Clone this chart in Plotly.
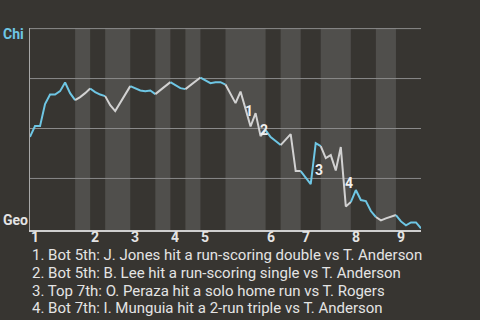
import plotly.graph_objects as go

# Chi win probability after each event (index 0 = first pitch)
win_prob = [
    0.458, 0.512, 0.512, 0.622, 0.670, 0.670, 0.687, 0.730, 0.677, 0.642,   # 0-9
    0.657, 0.677, 0.700, 0.682, 0.670, 0.662, 0.617, 0.587, 0.627, 0.670,   # 10-19
    0.712, 0.702, 0.690, 0.687, 0.690, 0.672, 0.692, 0.710, 0.732, 0.715,   # 20-29
    0.702, 0.697, 0.717, 0.737, 0.755, 0.742, 0.727, 0.732, 0.732, 0.720,   # 30-39
    0.672, 0.627, 0.685, 0.602, 0.510, 0.577, 0.462, 0.492, 0.457, 0.437,   # 40-49
    0.417, 0.442, 0.472, 0.287, 0.287, 0.257, 0.222, 0.427, 0.412, 0.352,   # 50-59
    0.367, 0.290, 0.407, 0.110, 0.132, 0.192, 0.142, 0.137, 0.087, 0.057,   # 60-69
    0.040, 0.050, 0.057, 0.067, 0.035, 0.015, 0.030, 0.030, 0.000,          # 70-78
]
# event index where each half-inning starts/ends (Top 1, Bot 1, Top 2, ...)
half_inning_bounds = [0, 9, 12, 15, 20, 25, 28, 31, 34, 39, 47, 50, 54, 58, 64, 69, 73, 78]
inning_labels = ["1", "2", "3", "4", "5", "6", "7", "8", "9"]
grid_values = [0.25, 0.5, 0.75, 1.0]
team_top = "Chi"
team_bottom = "Geo"
event_end_idx = [43, 46, 57, 63]
event_texts = [
    "1. Bot 5th: J. Jones hit a run-scoring double vs T. Anderson",
    "2. Bot 5th: B. Lee hit a run-scoring single vs T. Anderson",
    "3. Top 7th: O. Peraza hit a solo home run vs T. Rogers",
    "4. Bot 7th: I. Munguia hit a 2-run triple vs T. Anderson",
]

BG = "#373531"
BAND = "#504f4c"
BLUE = "#6ec6e4"
GRAY = "#d2d2d2"
TEXT = "#e4e4e4"
GRID = "#8a8a8a"
FONT = "Roboto"

W, H = 480, 320
L, R, T, B = 30, 59, 28, 90
PW, PH = W - L - R, H - T - B


def px(X):
    return (X - L) / PW


def py(Y):
    return (H - B - Y) / PH


fig = go.Figure()

n_half = len(half_inning_bounds) - 1
for h in range(n_half):
    a, b = half_inning_bounds[h], half_inning_bounds[h + 1]
    fig.add_trace(go.Scatter(
        x=list(range(a, b + 1)), y=win_prob[a:b + 1], mode="lines",
        line=dict(color=BLUE if h % 2 == 0 else GRAY, width=2),
        hoverinfo="skip", showlegend=False))
    if h % 2 == 1:
        fig.add_shape(type="rect", xref="x", yref="paper", x0=a, x1=b, y0=0, y1=1,
                      fillcolor=BAND, line=dict(width=0), layer="below")

# horizontal grid lines drawn as shapes so the top one (at 1.0) shows too
for g in grid_values:
    fig.add_shape(type="line", xref="paper", yref="y", x0=0, x1=1, y0=g, y1=g,
                  line=dict(color=GRID, width=1), layer="between")

ann = []
for k, lab in enumerate(inning_labels):
    ann.append(dict(x=half_inning_bounds[2 * k], xref="x", y=py(236.5), yref="paper",
                    text=f"<b>{lab}</b>", showarrow=False, xanchor="center", yanchor="middle",
                    xshift=5, height=14, font=dict(family=FONT, size=14, color=TEXT)))

ann.append(dict(x=px(1), xref="paper", y=py(33.5), yref="paper", text=f"<b>{team_top}</b>",
                showarrow=False, xanchor="left", yanchor="middle",
                font=dict(family=FONT, size=14, color=BLUE)))
ann.append(dict(x=px(1), xref="paper", y=py(219.5), yref="paper", text=f"<b>{team_bottom}</b>",
                showarrow=False, xanchor="left", yanchor="middle",
                font=dict(family=FONT, size=14, color=TEXT)))

ev_yshift = [-11, -5, -6, -6]
for n, i in enumerate(event_end_idx):
    ann.append(dict(x=i - 0.5, xref="x", y=(win_prob[i - 1] + win_prob[i]) / 2, yref="y",
                    text=f"<b>{n + 1}</b>", showarrow=False, xanchor="center", yanchor="middle",
                    xshift=6, yshift=ev_yshift[n],
                    font=dict(family=FONT, size=14, color="#f0f0f0")))

line_centers = [254, 272, 290, 307.5]
for t, yc in zip(event_texts, line_centers):
    ann.append(dict(x=px(30), xref="paper", y=py(yc), yref="paper",
                    text=t, showarrow=False, xanchor="left", yanchor="middle",
                    align="left", height=17, font=dict(family=FONT, size=15, color=TEXT)))

fig.update_layout(
    width=W, height=H, autosize=False,
    margin=dict(l=L, r=R, t=T, b=B, pad=0),
    paper_bgcolor=BG, plot_bgcolor=BG,
    font=dict(family=FONT, color=TEXT),
    annotations=ann,
    xaxis=dict(range=[0, len(win_prob) - 1], showgrid=False, zeroline=False,
               showline=True, linecolor="#cfcfcf", linewidth=2,
               showticklabels=False, ticks="", fixedrange=True),
    yaxis=dict(range=[-0.008, 1.003], showgrid=False, zeroline=False,
               showline=True, linecolor="#a8a8a8", linewidth=1,
               showticklabels=False, ticks="", fixedrange=True),
)

fig.write_html("out.html")
